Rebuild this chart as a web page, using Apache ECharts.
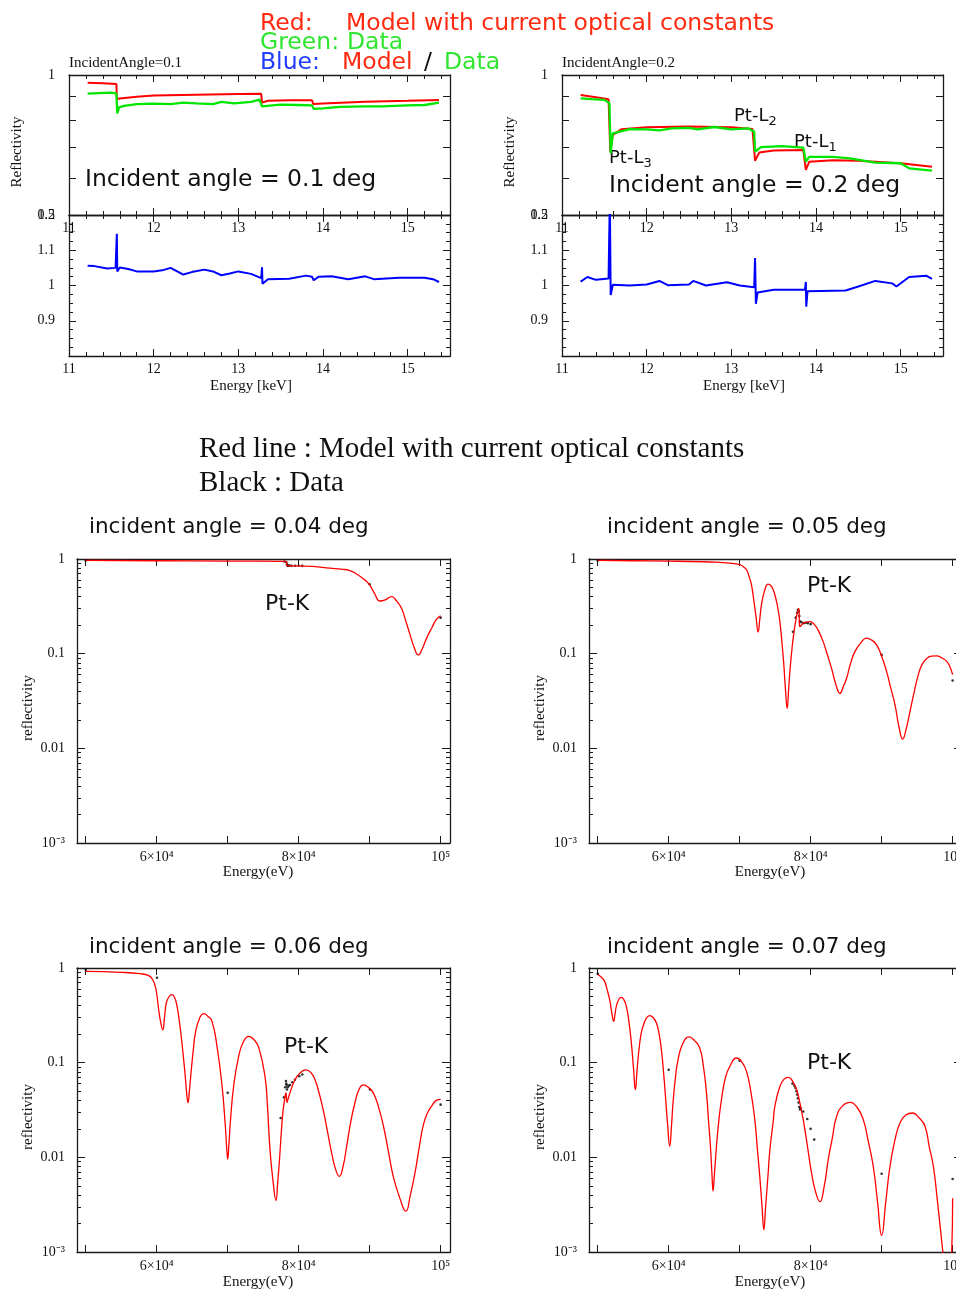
<!DOCTYPE html>
<html><head><meta charset="utf-8">
<script src="https://cdn.jsdelivr.net/npm/echarts@6/dist/echarts.min.js"></script>
<style>html,body{margin:0;padding:0;overflow:hidden;background:#fff}#c{width:975px;height:1291px}</style>
</head><body><div id="c"></div>
<script>
// ---------- DATA ----------
// Top panels: energy in keV, reflectivity
const tlModel=[[11.22,0.962],[11.40,0.960],[11.56,0.956],[11.565,0.888],[11.6,0.890],[11.8,0.898],[12.0,0.903],[12.5,0.907],[13.0,0.910],[13.27,0.911],[13.28,0.872],[13.35,0.880],[13.6,0.882],[13.87,0.882],[13.885,0.866],[14.0,0.868],[14.5,0.876],[15.0,0.880],[15.37,0.884]];
const tlData=[[11.22,0.912],[11.35,0.914],[11.5,0.916],[11.56,0.912],[11.57,0.827],[11.59,0.852],[11.65,0.858],[11.8,0.866],[12.0,0.868],[12.2,0.866],[12.35,0.872],[12.5,0.869],[12.7,0.866],[12.8,0.875],[12.95,0.869],[13.15,0.875],[13.25,0.885],[13.27,0.888],[13.28,0.856],[13.3,0.862],[13.5,0.864],[13.7,0.862],[13.87,0.860],[13.89,0.846],[14.0,0.848],[14.2,0.854],[14.5,0.856],[14.7,0.856],[15.0,0.860],[15.2,0.862],[15.37,0.872]];
const tlRatio=[[11.22,1.056],[11.3,1.055],[11.45,1.048],[11.55,1.05],[11.565,1.147],[11.57,1.04],[11.6,1.051],[11.7,1.047],[11.8,1.04],[12.0,1.04],[12.1,1.043],[12.2,1.05],[12.35,1.031],[12.45,1.038],[12.6,1.045],[12.7,1.04],[12.8,1.029],[12.9,1.034],[13.0,1.04],[13.15,1.033],[13.27,1.021],[13.28,1.052],[13.285,1.005],[13.35,1.018],[13.6,1.019],[13.8,1.028],[13.87,1.025],[13.88,1.03],[13.89,1.015],[13.95,1.025],[14.1,1.026],[14.3,1.018],[14.5,1.026],[14.6,1.018],[14.9,1.022],[15.2,1.022],[15.3,1.018],[15.37,1.01]];
const trModel=[[11.22,0.906],[11.4,0.896],[11.55,0.887],[11.57,0.684],[11.6,0.743],[11.7,0.764],[12.0,0.772],[12.5,0.775],[13.0,0.772],[13.25,0.765],[13.28,0.654],[13.33,0.681],[13.5,0.688],[13.85,0.690],[13.88,0.625],[13.92,0.651],[14.2,0.656],[14.5,0.654],[15.0,0.646],[15.37,0.635]];
const trData=[[11.22,0.891],[11.35,0.887],[11.5,0.884],[11.56,0.87],[11.575,0.679],[11.6,0.749],[11.8,0.765],[12.0,0.764],[12.15,0.760],[12.3,0.768],[12.5,0.770],[12.6,0.764],[12.8,0.773],[13.0,0.764],[13.2,0.768],[13.27,0.755],[13.28,0.684],[13.35,0.700],[13.6,0.703],[13.85,0.698],[13.88,0.651],[13.92,0.667],[14.2,0.667],[14.4,0.662],[14.7,0.648],[15.0,0.646],[15.1,0.630],[15.37,0.623]];
const trRatio=[[11.22,1.011],[11.3,1.024],[11.4,1.016],[11.55,1.02],[11.565,1.25],[11.575,0.973],[11.6,1.002],[11.8,1.0],[12.0,1.003],[12.15,1.013],[12.25,1.001],[12.5,1.003],[12.55,1.013],[12.7,1.0],[12.95,1.009],[13.1,1.0],[13.27,0.995],[13.28,1.078],[13.29,0.948],[13.31,0.98],[13.5,0.988],[13.87,0.988],[13.88,1.01],[13.885,0.94],[13.9,0.984],[14.35,0.986],[14.5,0.997],[14.7,1.013],[14.9,1.006],[14.95,0.997],[15.1,1.024],[15.3,1.028],[15.37,1.019]];

// Bottom panels: energy in eV, reflectivity
const aModel=[[50000,0.966],[60000,0.958],[70000,0.950],[78300,0.940],[78320,0.85],[80000,0.845],[82000,0.835],[84400,0.80],[86000,0.78],[87220,0.755],[88200,0.69],[89100,0.62],[89940,0.54],[90700,0.43],[91450,0.36],[92200,0.37],[93100,0.40],[93800,0.36],[94500,0.30],[95100,0.22],[95680,0.16],[96300,0.115],[96850,0.097],[97400,0.112],[98030,0.146],[98800,0.19],[99400,0.23],[100000,0.251]];
const aData=[[50000,0.965],[78000,0.94],[78250,0.93],[78350,0.88],[78400,0.86],[78500,0.85],[78700,0.855],[79000,0.85],[79500,0.85],[80000,0.85],[80500,0.845],[90000,0.54],[100000,0.24]];
const bModel=[[50000,0.966],[55000,0.958],[60000,0.95],[65000,0.935],[67190,0.92],[68600,0.905],[70010,0.87],[70600,0.82],[70960,0.77],[71300,0.66],[71660,0.534],[72000,0.36],[72270,0.257],[72600,0.169],[72850,0.24],[73070,0.328],[73500,0.46],[74010,0.544],[74500,0.51],[74950,0.419],[75350,0.31],[75660,0.218],[76000,0.12],[76220,0.076],[76450,0.042],[76690,0.0264],[76880,0.04],[77070,0.0645],[77300,0.10],[77540,0.146],[78010,0.247],[78340,0.30],[78420,0.20],[78480,0.193],[78950,0.21],[79890,0.218],[80590,0.20],[81200,0.168],[81760,0.134],[82400,0.095],[82940,0.070],[83600,0.046],[84120,0.038],[84600,0.045],[85060,0.055],[85600,0.078],[86230,0.105],[87050,0.13],[87880,0.146],[88590,0.139],[89290,0.124],[90000,0.094],[90700,0.0645],[91300,0.043],[91880,0.0288],[92500,0.016],[92960,0.0125],[93450,0.016],[93990,0.0245],[94600,0.04],[95160,0.0597],[95700,0.077],[96350,0.089],[97000,0.094],[97760,0.095],[98500,0.090],[99170,0.083],[99600,0.073],[100000,0.06]];
const bData=[[50000,0.965],[77500,0.17],[77900,0.24],[78100,0.27],[78200,0.29],[78300,0.28],[78400,0.25],[78500,0.22],[78700,0.215],[79000,0.21],[79300,0.212],[79600,0.21],[80000,0.205],[90000,0.097],[100000,0.052]];
const cModel=[[50000,0.921],[55000,0.90],[57650,0.87],[58870,0.83],[59400,0.76],[59800,0.64],[60050,0.50],[60280,0.362],[60550,0.27],[60850,0.222],[61100,0.30],[61350,0.427],[61750,0.50],[62150,0.523],[62500,0.49],[62860,0.395],[63200,0.27],[63560,0.161],[64030,0.0706],[64250,0.045],[64410,0.0377],[64600,0.05],[64870,0.0837],[65150,0.135],[65440,0.204],[66000,0.29],[66620,0.33],[67200,0.31],[67790,0.273],[68490,0.149],[69200,0.0574],[69660,0.0218],[69850,0.013],[70000,0.0096],[70180,0.014],[70370,0.0234],[70850,0.0574],[71550,0.117],[72200,0.165],[72960,0.19],[73700,0.175],[74370,0.145],[75250,0.072],[75600,0.035],[75960,0.012],[76400,0.0055],[76800,0.0035],[77050,0.0055],[77270,0.0088],[77500,0.016],[77750,0.0286],[78000,0.040],[78210,0.048],[78350,0.038],[78450,0.040],[78770,0.048],[79480,0.066],[80200,0.078],[81030,0.084],[81700,0.079],[82300,0.066],[82900,0.047],[83460,0.0318],[84100,0.018],[84650,0.0111],[85200,0.0075],[85720,0.0063],[86250,0.0080],[86760,0.0131],[87350,0.024],[87930,0.0377],[88500,0.052],[89100,0.0584],[89800,0.055],[90510,0.048],[91200,0.035],[91920,0.0218],[92600,0.012],[93320,0.0063],[94200,0.0038],[95110,0.0027],[95700,0.0039],[96380,0.0068],[97000,0.013],[97550,0.0218],[98100,0.029],[98730,0.0348],[99400,0.040],[100000,0.041]];
const cData=[[50000,0.96],[60040,0.79],[70000,0.048],[77460,0.026],[77930,0.043],[78100,0.055],[78210,0.064],[78250,0.06],[78300,0.058],[78350,0.052],[78450,0.055],[78600,0.057],[78770,0.058],[79100,0.062],[79480,0.066],[80080,0.072],[80510,0.075],[90040,0.052],[100000,0.036]];
const dModel=[[50030,0.85],[50500,0.80],[50970,0.722],[51350,0.58],[51680,0.463],[52000,0.33],[52240,0.273],[52450,0.33],[52620,0.393],[53000,0.47],[53330,0.489],[53700,0.46],[54030,0.393],[54400,0.27],[54740,0.161],[55050,0.085],[55300,0.052],[55550,0.085],[55810,0.137],[56100,0.20],[56380,0.241],[56850,0.295],[57320,0.314],[57800,0.30],[58270,0.263],[58650,0.20],[58970,0.137],[59300,0.075],[59580,0.0406],[59850,0.022],[60140,0.0131],[60400,0.022],[60610,0.0377],[60950,0.07],[61310,0.107],[62000,0.16],[62860,0.187],[63600,0.172],[64370,0.143],[64900,0.09],[65320,0.048],[65600,0.025],[65880,0.0131],[66100,0.0065],[66250,0.0044],[66450,0.0068],[66730,0.0131],[67050,0.024],[67430,0.0406],[68000,0.07],[68600,0.0912],[69550,0.112],[70300,0.102],[70960,0.081],[71600,0.048],[72130,0.025],[72500,0.012],[72830,0.0063],[73150,0.003],[73400,0.00172],[73650,0.003],[74010,0.0068],[74250,0.012],[74710,0.0234],[74950,0.0345],[75660,0.056],[76250,0.067],[76830,0.0699],[77450,0.064],[78010,0.052],[78500,0.037],[78950,0.025],[79550,0.013],[80130,0.0068],[80700,0.0043],[81300,0.0034],[81900,0.0049],[82470,0.0094],[83050,0.016],[83650,0.027],[84500,0.035],[85530,0.038],[86500,0.034],[87410,0.025],[88100,0.015],[88820,0.008],[89400,0.0035],[90000,0.0015],[90600,0.0035],[91170,0.008],[91850,0.015],[92580,0.023],[93400,0.028],[94370,0.0294],[95300,0.026],[96110,0.0213],[96700,0.013],[97290,0.008],[97800,0.0038],[98230,0.0019],[98700,0.0009],[99300,0.0004],[99850,0.0009],[100000,0.0037]];
const dData=[[50000,0.87],[60000,0.084],[70000,0.105],[77440,0.06],[77700,0.057],[77850,0.054],[78000,0.05],[78100,0.046],[78200,0.042],[78300,0.038],[78400,0.034],[78500,0.032],[78600,0.033],[78950,0.0305],[79520,0.0254],[79990,0.020],[80500,0.0154],[90000,0.0067],[100000,0.0059]];

// Tick values / labels
const keVTicks=[11,12,13,14,15];
const keVMinorTicks=[11.2,11.4,11.6,11.8,12.2,12.4,12.6,12.8,13.2,13.4,13.6,13.8,14.2,14.4,14.6,14.8,15.2,15.4];
const topLogTicks=[0.5,0.6,0.7,0.8,0.9,1];
const topLogLabels=[0.5,1];
const ratioLabels=[0.9,1,1.1,1.2];
const ratioTicks=[0.8,0.9,1,1.1,1.2];
const ratioMinor=[0.825,0.85,0.875,0.925,0.95,0.975,1.025,1.05,1.075,1.125,1.15,1.175];
const eVTicks=[50000,60000,70000,80000,90000,100000];
const eVLabelVals=[60000,80000,100000];
const eVLabelText={60000:'6×10⁴',80000:'8×10⁴',100000:'10⁵'};
const logTicks=[0.001,0.01,0.1,1];
const logMinorTicks=[0.002,0.003,0.004,0.005,0.006,0.007,0.008,0.009,0.02,0.03,0.04,0.05,0.06,0.07,0.08,0.09,0.2,0.3,0.4,0.5,0.6,0.7,0.8,0.9];
const logLabelText={0.001:'10⁻³',0.01:'0.01',0.1:'0.1',1:'1'};

// ---------- CHART ----------
const SERIF='"Liberation Serif","Times New Roman",serif';
const SANS='"DejaVu Sans",sans-serif';
const AXC='#1a1a1a';
const grids=[
 {left:69,top:75,width:381,height:140},
 {left:69,top:215,width:381,height:141},
 {left:562,top:75,width:381,height:140},
 {left:562,top:215,width:381,height:141},
 {left:77,top:559,width:373,height:284},
 {left:589,top:559,width:373,height:284},
 {left:77,top:968,width:373,height:284},
 {left:589,top:968,width:373,height:284}
];
const xAxes=[],yAxes=[],series=[];
function mk(base,pos,tickVals,len,showLine,labelVals,fmt,margin,fs){
  return Object.assign({},base,{
    position:pos,
    axisLine:{show:showLine,onZero:false,lineStyle:{color:AXC,width:1.3}},
    axisTick:{show:true,inside:true,length:len,customValues:tickVals,lineStyle:{color:AXC,width:1}},
    axisLabel:labelVals?{show:true,customValues:labelVals,formatter:fmt,margin:margin,color:'#111',fontFamily:SERIF,fontSize:fs||14}:{show:false},
    splitLine:{show:false},minorTick:{show:false},minorSplitLine:{show:false},axisPointer:{show:false}
  });
}
function addAxes(list,gi,type,min,max,posA,posB,major,minor,labels,fmt,margin,majLen,minLen,extra){
  const base=Object.assign({type:type,gridIndex:gi,min:min,max:max},extra||{});
  const idx=list.length;
  list.push(mk(base,posA,major,majLen,true,labels,fmt,margin));
  if(minor) list.push(mk(base,posA,minor,minLen,false));
  list.push(mk(base,posB,major,majLen,true));
  if(minor) list.push(mk(base,posB,minor,minLen,false));
  return idx;
}
const fmtNum=v=>String(+(+v).toFixed(2));
const fmtLog=v=>{const k=Object.keys(logLabelText).find(t=>Math.abs(Math.log10(+t)-Math.log10(v))<1e-6);return k?logLabelText[k]:'';};
const fmtEV=v=>{const k=Object.keys(eVLabelText).find(t=>Math.abs(+t-v)<1);return k?eVLabelText[k]:'';};

function topPanel(gUp,gLo,model,data,ratio){
  const xu=addAxes(xAxes,gUp,'value',11,15.5,'bottom','top',keVTicks,keVMinorTicks,keVTicks,fmtNum,6,7,4);
  const yu=addAxes(yAxes,gUp,'log',0.5,1,'left','right',topLogTicks,null,topLogLabels,fmtNum,14,7,4,{logBase:10});
  const xl=addAxes(xAxes,gLo,'value',11,15.5,'bottom','top',keVTicks,keVMinorTicks,keVTicks,fmtNum,6,7,4);
  const yl=addAxes(yAxes,gLo,'value',0.8,1.2,'left','right',ratioTicks,ratioMinor,ratioLabels,fmtNum,14,7,4);
  series.push({type:'line',xAxisIndex:xu,yAxisIndex:yu,data:model,symbol:'none',lineStyle:{color:'#ff0000',width:2}});
  series.push({type:'line',xAxisIndex:xu,yAxisIndex:yu,data:data,symbol:'none',lineStyle:{color:'#00e600',width:2.3}});
  series.push({type:'line',xAxisIndex:xl,yAxisIndex:yl,data:ratio,symbol:'none',lineStyle:{color:'#0000ff',width:2}});
}
function botPanel(g,model,data){
  const x=addAxes(xAxes,g,'value',48770,101320,'bottom','top',eVTicks,null,eVLabelVals,fmtEV,7,7,4);
  const y=addAxes(yAxes,g,'log',0.001,1,'left','right',logTicks,logMinorTicks,logTicks,fmtLog,12,8,4,{logBase:10});
  series.push({type:'line',xAxisIndex:x,yAxisIndex:y,data:model,symbol:'none',smooth:0.5,lineStyle:{color:'#ff0000',width:1.3}});
  series.push({type:'scatter',xAxisIndex:x,yAxisIndex:y,data:data,symbol:'circle',symbolSize:2.6,itemStyle:{color:'#000'}});
}
topPanel(0,1,tlModel,tlData,tlRatio);
topPanel(2,3,trModel,trData,trRatio);
botPanel(4,aModel,aData);
botPanel(5,bModel,bData);
botPanel(6,cModel,cData);
botPanel(7,dModel,dData);

function T(text,x,y,font,fill){
  return {type:'text',x:x,y:y,silent:true,style:{text:text,font:font,fill:fill||'#111',align:'left',verticalAlign:'middle'}};
}
function TC(text,x,y,font,rot){
  return {type:'text',x:x,y:y,rotation:rot||0,silent:true,style:{text:text,font:font,fill:'#111',align:'center',verticalAlign:'middle'}};
}
function sub(main,s,x,y){
  return {type:'text',x:x,y:y,silent:true,style:{text:'{a|'+main+'}{s|'+s+'}',align:'left',verticalAlign:'middle',fill:'#111',
    rich:{a:{fontFamily:SANS,fontSize:18,lineHeight:24,fill:'#111'},s:{fontFamily:SANS,fontSize:13,verticalAlign:'bottom',fill:'#111'}}}};
}
const RED='#ff2a10',GREEN='#2ee62e',BLUE='#1f3cff';
const L1='23.5px '+SANS;
const graphic=[
  T('Red:',260,24,L1,RED), T('Model with current optical constants',346,24,L1,RED),
  T('Green:',260,43,L1,GREEN), T('Data',347,43,L1,GREEN),
  T('Blue:',260,63,L1,BLUE), T('Model',342,63,L1,RED), T('/',424,63,L1,'#111'), T('Data',444,63,L1,GREEN),
  T('IncidentAngle=0.1',69,63,'15px '+SERIF), T('IncidentAngle=0.2',562,63,'15px '+SERIF),
  TC('Reflectivity',17,152,'15px '+SERIF,Math.PI/2), TC('Reflectivity',510,152,'15px '+SERIF,Math.PI/2),
  TC('Energy [keV]',251,386,'15px '+SERIF), TC('Energy [keV]',744,386,'15px '+SERIF),
  T('Incident angle = 0.1 deg',85,180,'23.5px '+SANS), T('Incident angle = 0.2 deg',609,186,'23.5px '+SANS),
  sub('Pt-L','2',734,116), sub('Pt-L','1',794,142), sub('Pt-L','3',609,158),
  T('Red line : Model with current optical constants',199,449,'29px '+SERIF),
  T('Black : Data',199,483,'29px '+SERIF),
  T('incident angle = 0.04 deg',89,527,'21.5px '+SANS), T('incident angle = 0.05 deg',607,527,'21.5px '+SANS),
  T('incident angle = 0.06 deg',89,947,'21.5px '+SANS), T('incident angle = 0.07 deg',607,947,'21.5px '+SANS),
  T('Pt-K',265,604,'22px '+SANS), T('Pt-K',807,586,'22px '+SANS), T('Pt-K',284,1047,'22px '+SANS), T('Pt-K',807,1063,'22px '+SANS),
  TC('reflectivity',28,708,'15px '+SERIF,Math.PI/2), TC('reflectivity',540,708,'15px '+SERIF,Math.PI/2),
  TC('reflectivity',28,1117,'15px '+SERIF,Math.PI/2), TC('reflectivity',540,1117,'15px '+SERIF,Math.PI/2),
  TC('Energy(eV)',258,872,'15px '+SERIF), TC('Energy(eV)',770,872,'15px '+SERIF),
  TC('Energy(eV)',258,1282,'15px '+SERIF), TC('Energy(eV)',770,1282,'15px '+SERIF)
];
const chart=echarts.init(document.getElementById('c'),null,{renderer:'canvas'});
chart.setOption({animation:false,backgroundColor:'#fff',grid:grids,xAxis:xAxes,yAxis:yAxes,series:series,graphic:graphic});
</script></body></html>
